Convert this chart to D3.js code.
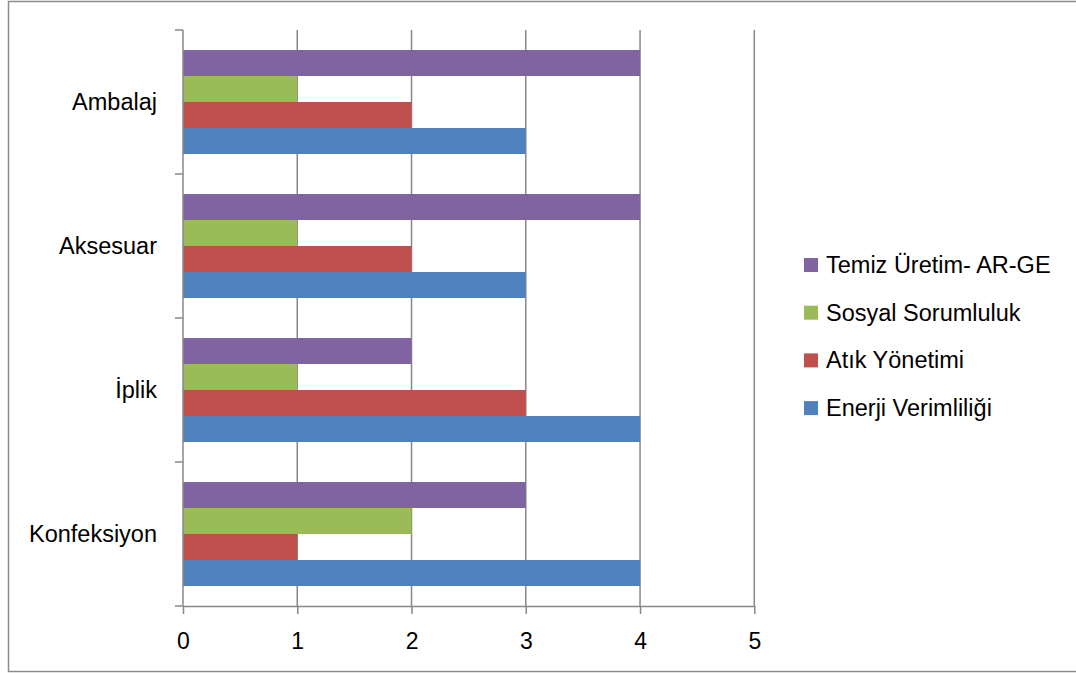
<!DOCTYPE html>
<html>
<head>
<meta charset="utf-8">
<script src="https://cdn.jsdelivr.net/npm/d3@7"></script>
<style>
  html, body { margin: 0; padding: 0; background: #fff; }
  svg { display: block; }
  text { font-family: "Liberation Sans", Arial, sans-serif; fill: #000; }
</style>
</head>
<body>
<svg id="chart" width="1076" height="673"></svg>
<script>
// Data
const categories = ["Ambalaj", "Aksesuar", "İplik", "Konfeksiyon"];
const seriesNames = ["Temiz Üretim- AR-GE", "Sosyal Sorumluluk", "Atık Yönetimi", "Enerji Verimliliği"];
const temizUretim = [4, 4, 2, 3];
const sosyalSorumluluk = [1, 1, 1, 2];
const atikYonetimi = [2, 2, 3, 1];
const enerjiVerimliligi = [3, 3, 4, 4];
const xTicks = [0, 1, 2, 3, 4, 5];
const seriesColors = ["#8064A2", "#9BBB59", "#C0504D", "#4F81BD"];

const seriesValues = [temizUretim, sosyalSorumluluk, atikYonetimi, enerjiVerimliligi];

(function () {
const svg = d3.select("#chart");
const W = 1076;
const pLeft = 183, pRight = 754.3, pTop = 30, pBottom = 606;
const gridColor = "#888888";

// outer border
svg.append("rect")
  .attr("x", 8.5).attr("y", 1.5)
  .attr("width", W + 10).attr("height", 670)
  .attr("fill", "none").attr("stroke", "#8c8c8c").attr("stroke-width", 1.5);

const x = d3.scaleLinear().domain([0, 5]).range([pLeft, pRight]);
const y = d3.scaleBand().domain(categories).range([pTop, pBottom]).paddingInner(0).paddingOuter(0);
const ySeries = d3.scaleBand().domain(seriesNames).range([20, y.bandwidth() - 20]).padding(0);

// gridlines
svg.append("g").selectAll("line")
  .data(xTicks.filter(t => t > 0))
  .join("line")
  .attr("x1", d => x(d)).attr("x2", d => x(d))
  .attr("y1", pTop).attr("y2", pBottom)
  .attr("stroke", gridColor).attr("stroke-width", 1.5);

// bars
const rows = [];
categories.forEach((c, ci) => {
  seriesNames.forEach((s, si) => {
    rows.push({ cat: c, series: s, value: seriesValues[si][ci], color: seriesColors[si] });
  });
});
svg.append("g").selectAll("rect")
  .data(rows)
  .join("rect")
  .attr("x", x(0))
  .attr("y", d => y(d.cat) + ySeries(d.series))
  .attr("width", d => x(d.value) - x(0))
  .attr("height", ySeries.bandwidth())
  .attr("fill", d => d.color);

// x axis
const xAxis = svg.append("g")
  .attr("transform", `translate(0,${pBottom})`)
  .call(d3.axisBottom(x).tickValues(xTicks).tickFormat(d3.format("d"))
    .tickSize(8).tickPadding(19).tickSizeOuter(0));
xAxis.select(".domain").attr("stroke", gridColor).attr("stroke-width", 1.5);
xAxis.selectAll(".tick line").attr("stroke", gridColor).attr("stroke-width", 1.5);
xAxis.selectAll("text").attr("font-size", 23).attr("font-family", "Liberation Sans, Arial, sans-serif").attr("fill", "#000");

// y axis (ticks at category boundaries)
const boundaries = categories.map(c => y(c)).concat([pBottom]);
svg.append("line")
  .attr("x1", pLeft).attr("x2", pLeft).attr("y1", pTop).attr("y2", pBottom)
  .attr("stroke", gridColor).attr("stroke-width", 1.5);
svg.append("g").selectAll("line")
  .data(boundaries)
  .join("line")
  .attr("x1", pLeft - 8).attr("x2", pLeft)
  .attr("y1", d => d).attr("y2", d => d)
  .attr("stroke", gridColor).attr("stroke-width", 1.5);
svg.append("g").selectAll("text")
  .data(categories)
  .join("text")
  .attr("x", 157)
  .attr("y", d => y(d) + y.bandwidth() / 2)
  .attr("text-anchor", "end")
  .attr("dominant-baseline", "central")
  .attr("font-size", 23.5)
  .text(d => d);

// legend
const legend = svg.append("g").attr("transform", "translate(804,258)");
const li = legend.selectAll("g")
  .data(seriesNames)
  .join("g")
  .attr("transform", (d, i) => `translate(0,${i * 47.7})`);
li.append("rect")
  .attr("width", 14).attr("height", 14)
  .attr("fill", (d, i) => seriesColors[i]);
li.append("text")
  .attr("x", 22).attr("y", 7)
  .attr("dominant-baseline", "central")
  .attr("font-size", 23.5)
  .text(d => d);
})();
</script>
</body>
</html>
